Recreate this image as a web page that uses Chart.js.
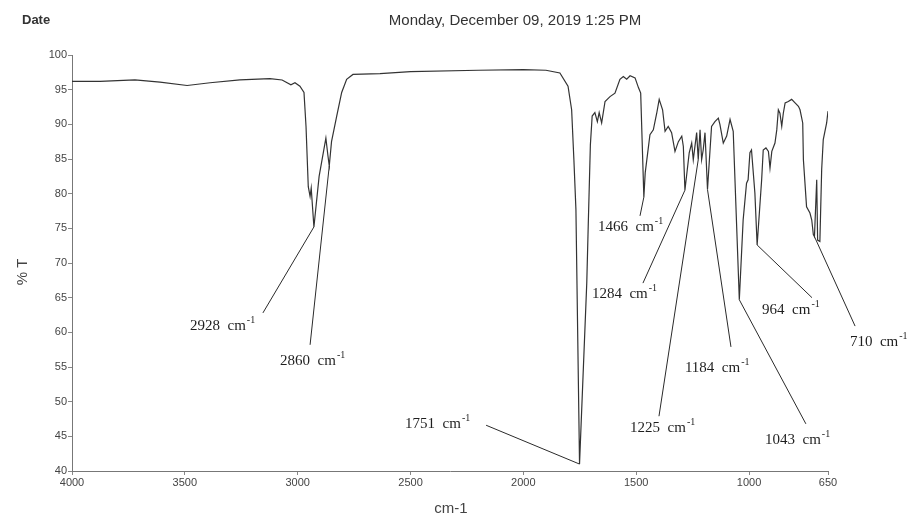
<!DOCTYPE html>
<html>
<head>
<meta charset="utf-8">
<script src="https://cdn.jsdelivr.net/npm/chart.js@4/dist/chart.umd.min.js"></script>
<style>
  html, body { margin: 0; padding: 0; background: #fff; }
  #wrap { width: 914px; height: 518px; position: relative; }
</style>
</head>
<body>
<div id="wrap"><canvas id="ir-chart"></canvas></div>
<script>
// FTIR spectrum, wavenumber (cm-1) vs transmittance (%)
const wavenumbers = [
  4000, 3876, 3721, 3610, 3490, 3388, 3256, 3123, 3069, 3030, 3012, 2990, 2972, 2963, 2953, 2945, 2940, 2928,
  2905, 2875, 2866, 2860, 2850, 2827, 2805, 2783, 2755, 2635, 2500, 2200, 2000, 1900, 1838, 1802, 1786, 1776,
  1767, 1751, 1719, 1712, 1703, 1695, 1683, 1672, 1664, 1653, 1638, 1616, 1594, 1572, 1557, 1542, 1527, 1505,
  1490, 1480, 1466, 1460, 1439, 1424, 1409, 1398, 1383, 1372, 1358, 1343, 1328, 1313, 1298, 1291, 1284, 1265,
  1254, 1247, 1232, 1225, 1217, 1210, 1203, 1195, 1184, 1166, 1151, 1136, 1129, 1114, 1099, 1084, 1070, 1043,
  1026, 1011, 1004, 996, 989, 974, 964, 944, 937, 925, 914, 907, 899, 885, 877, 870, 863, 855, 848, 840, 826,
  811, 796, 781, 774, 762, 759, 745, 730, 722, 715, 710, 700, 696, 686, 678, 671, 656, 650
];
const transmittance = [
  96.2, 96.2, 96.4, 96.1, 95.6, 96.0, 96.4, 96.6, 96.4, 95.7, 96.0, 95.5, 94.6, 89.7, 81.0, 79.6, 80.8, 75.2,
  82.5, 88.0, 85.5, 84.0, 87.5, 91.2, 94.6, 96.5, 97.2, 97.3, 97.6, 97.8, 97.9, 97.8, 97.4, 95.5, 92.1, 84.9,
  77.7, 41.0, 67.1, 76.0, 87.0, 91.2, 91.7, 90.4, 91.7, 90.2, 93.3, 94.0, 94.5, 96.5, 96.9, 96.5, 97.0, 96.7,
  95.3, 94.5, 79.5, 83.0, 88.5, 89.2, 91.6, 93.6, 92.1, 89.0, 89.7, 88.8, 86.1, 87.5, 88.3, 86.8, 80.5, 85.9,
  87.3, 84.9, 88.8, 84.9, 89.2, 84.9, 86.3, 88.8, 80.6, 89.7, 90.4, 90.9, 90.0, 87.3, 88.3, 90.7, 89.0, 64.7,
  76.2, 81.5, 82.0, 85.9, 86.3, 80.1, 72.6, 82.0, 86.3, 86.6, 86.1, 83.7, 86.1, 87.3, 89.2, 92.1, 91.6, 89.7,
  91.6, 93.1, 93.3, 93.6, 93.1, 92.6, 92.1, 90.2, 84.9, 78.1, 77.2, 76.2, 74.1, 73.8, 82.0, 73.3, 73.1, 83.5,
  87.8, 90.2, 91.9
];
const xTicks = [4000, 3500, 3000, 2500, 2000, 1500, 1000, 650];

// marked bands
const peakWavenumbers = [2928, 2860, 1751, 1466, 1284, 1225, 1184, 1043, 964, 710];

// where each band label sits and where its leader line starts (axis units)
const labelAt = [
  [3477, 60.3], [3078, 55.3], [2524, 46.2], [1669, 74.6], [1696, 65.0],
  [1527, 45.6], [1284, 54.3], [929, 43.9], [942, 62.6], [553, 58.0]
];
const leaderFrom = [
  [3154, 62.8], [2945, 58.2], [2165, 46.6], [1483, 76.8], [1470, 67.1],
  [1399, 47.9], [1080, 57.9], [748, 46.8], [721, 65.0], [530, 60.9]
];

const points = wavenumbers.map((w, i) => ({ x: w, y: transmittance[i] }));

const annotate = {
  id: 'annotate',
  afterDraw(chart) {
    const { ctx, scales: { x, y } } = chart;
    ctx.save();

    // header
    ctx.fillStyle = '#333';
    ctx.font = 'bold 13px "Liberation Sans", Arial, sans-serif';
    ctx.textBaseline = 'alphabetic';
    ctx.textAlign = 'left';
    ctx.fillText('Date', 22, 24);
    ctx.font = '15px "Liberation Sans", Arial, sans-serif';
    ctx.textAlign = 'center';
    ctx.fillText('Monday, December 09, 2019 1:25 PM', 515, 25);

    // axis titles
    ctx.fillStyle = '#444';
    ctx.font = '15px "Liberation Sans", Arial, sans-serif';
    ctx.fillText('cm-1', 451, 513);
    ctx.save();
    ctx.translate(27, 272);
    ctx.rotate(-Math.PI / 2);
    ctx.fillText('% T', 0, 0);
    ctx.restore();

    // band labels with leader lines
    ctx.strokeStyle = '#2a2a2a';
    ctx.lineWidth = 1;
    ctx.fillStyle = '#1e1e1e';
    ctx.textAlign = 'left';
    peakWavenumbers.forEach((w, i) => {
      const t = transmittance[wavenumbers.indexOf(w)];
      ctx.beginPath();
      ctx.moveTo(x.getPixelForValue(leaderFrom[i][0]), y.getPixelForValue(leaderFrom[i][1]));
      ctx.lineTo(x.getPixelForValue(w), y.getPixelForValue(t));
      ctx.stroke();

      const lx = x.getPixelForValue(labelAt[i][0]);
      const ly = y.getPixelForValue(labelAt[i][1]);
      ctx.font = '15px "Liberation Serif", "Times New Roman", serif';
      const main = w + '  cm';
      ctx.fillText(main, lx, ly);
      const wMain = ctx.measureText(main).width;
      ctx.font = '10px "Liberation Serif", "Times New Roman", serif';
      ctx.fillText('-1', lx + wMain + 1, ly - 7);
    });
    ctx.restore();
  }
};

const chart = new Chart(document.getElementById('ir-chart'), {
  type: 'line',
  data: {
    datasets: [{
      label: '%T',
      data: points,
      borderColor: '#333',
      borderWidth: 1.2,
      pointRadius: 0,
      fill: false,
      tension: 0
    }]
  },
  options: {
    responsive: true,
    maintainAspectRatio: false,
    animation: false,
    layout: {
      padding: { left: 0, right: 86, top: 55, bottom: 0 }
    },
    plugins: {
      legend: { display: false },
      tooltip: { enabled: false }
    },
    scales: {
      x: {
        type: 'linear',
        reverse: true,
        min: 650,
        max: 4000,
        afterBuildTicks: (scale) => { scale.ticks = xTicks.map(v => ({ value: v })); },
        afterFit: (scale) => { scale.height = 47; },
        grid: { display: true, drawOnChartArea: false, drawTicks: true, tickLength: 4, color: '#888' },
        border: { display: true, color: '#777' },
        ticks: {
          autoSkip: false,
          maxRotation: 0,
          padding: 1,
          color: '#444',
          font: { family: '"Liberation Sans", Arial, sans-serif', size: 11 },
          callback: (v) => v
        }
      },
      y: {
        min: 40,
        max: 100,
        afterFit: (scale) => { scale.width = 72; },
        grid: { display: true, drawOnChartArea: false, drawTicks: true, tickLength: 4, color: '#888' },
        border: { display: true, color: '#777' },
        ticks: {
          stepSize: 5,
          padding: 1,
          color: '#444',
          font: { family: '"Liberation Sans", Arial, sans-serif', size: 11 }
        }
      }
    }
  },
  plugins: [annotate]
});
</script>
</body>
</html>
